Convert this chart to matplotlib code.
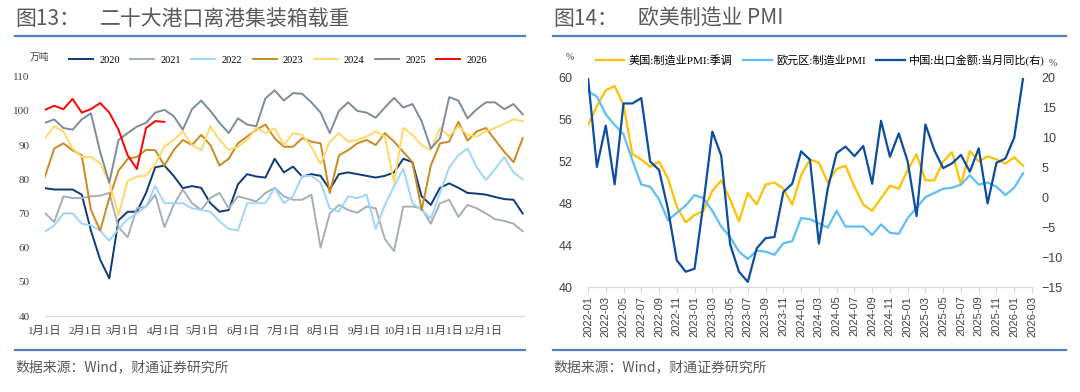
import numpy as np
import matplotlib
matplotlib.use('Agg')
import matplotlib.pyplot as plt
from matplotlib.lines import Line2D

plt.rcParams['font.family'] = ['Liberation Serif', 'Noto Sans CJK SC', 'DejaVu Sans']

# ---- 图13 二十大港口离港集装箱载重 (万吨), 每7天取一个点 ----
days = np.arange(0, 365, 7)
y2020 = [77.4, 77, 77, 77, 75.5, 65, 56.5, 51, 68, 70.5, 70.5, 76, 83.5, 84, 81, 77.4, 78, 77.5, 73, 70.5,
         71, 78.5, 81.5, 80.8, 80.5, 86, 82,
         83.7, 80.8, 81.5, 81, 77, 81.5, 82, 81.5, 81, 80.5, 81, 82, 86, 85, 75, 72.5, 77.5, 78.8, 77.5,
         76, 75.8, 75.5, 74.8, 74.2, 74, 70]
y2021 = [70.1, 67.5, 75, 74.5, 74.5, 75, 75.2, 76, 66, 63, 71.5, 72, 75.5, 66, 72.5, 77, 73, 71, 74.5, 76,
         71.5, 75, 74.3, 73.5, 76, 77.5, 75,
         74, 74, 75.5, 60, 70, 72.5, 71, 70.2, 72, 71.5, 62.5, 59, 72, 72, 71.5, 67, 73, 74, 69,
         72.5, 71.5, 70, 68.3, 67.8, 67, 64.8]
y2022 = [64.7, 66.5, 70, 70, 67, 66.5, 65, 62, 65.5, 68.3, 70.1, 72, 78, 73, 73, 73, 71.5, 71, 70.5, 67.7,
         65.5, 65, 73, 73, 73, 77.5, 73,
         75, 81, 81, 79, 71.5, 70.5, 75, 74.5, 75.5, 65.5, 72.5, 78, 83, 73, 71, 68.5, 76, 83.5, 87,
         89, 83.5, 79.8, 83, 86.5, 82, 80]
y2023 = [80.8, 89, 90.5, 88.5, 87, 71, 65, 74.5, 82.5, 86, 86.5, 88.6, 88.5, 84, 88.5, 91.5, 90, 93, 90, 84,
         86, 90.5, 92.5, 94.5, 96, 92, 89.5,
         89.5, 92, 91, 90.5, 76, 87, 88.5, 90.5, 91.5, 90, 93.5, 91, 88, 85, 71, 84, 90.5, 91, 96.8,
         91.3, 94, 95, 91.5, 88, 85, 92]
y2024 = [92, 95.5, 94, 89, 86.5, 86.5, 84.7, 79, 69.5, 79.5, 80.8, 81, 84.5, 89.5, 91.5, 94, 90, 88.5, 95.5, 91.5,
         88.6, 89.5, 91.5, 95, 93.5, 94.9, 90,
         93.5, 93, 89.5, 84.5, 91, 93.5, 91, 91.5, 92.5, 94, 92.5, 79, 95, 93, 90, 88.5, 95, 92.5, 95.5,
         93, 92.5, 94, 95, 96.3, 97.5, 97]
y2025 = [96.5, 97.5, 95, 94.5, 97.5, 99.3, 88, 79, 91.5, 93.5, 95.4, 96.5, 99.5, 100.3, 98.5, 94.5, 100.5, 103, 100, 96.5,
         93.5, 97.8, 96, 95.5, 103.7, 106, 103,
         105.2, 105, 102.5, 99.5, 93.5, 100, 102.5, 100, 99.5, 98, 101, 103.8, 101, 102, 97, 89, 92, 104, 103,
         97.8, 100.5, 102.5, 102.5, 100.5, 102, 99]
y2026 = [100.3, 101.5, 100.5, 103.5, 99.5, 100.5, 102.3, 99.5, 94.5, 87, 83, 95, 97, 96.8]

port_series = [('2020', y2020, '#0D3A78'), ('2021', y2021, '#A6AEB6'), ('2022', y2022, '#9FD6F8'),
               ('2023', y2023, '#C98A1F'), ('2024', y2024, '#FFD966'), ('2025', y2025, '#7D8C9B'),
               ('2026', y2026, '#FF0000')]
month_start = [0, 31, 59, 90, 120, 151, 181, 212, 243, 273, 304, 334]
month_labels = ['%d月1日' % m for m in range(1, 13)]

# ---- 图14 欧美制造业 PMI ----
us_pmi = [55.5, 57.3, 58.8, 59.2, 57.4, 52.7, 52.2, 51.5, 52.0, 50.4, 47.7, 46.2,
          46.9, 47.3, 49.2, 50.2, 48.4, 46.3, 49.0, 47.9, 49.8, 50.0, 49.4, 47.9,
          50.7, 52.2, 51.9, 50.0, 51.3, 51.6, 49.6, 47.9, 47.3, 48.5, 49.7, 49.4,
          51.2, 52.7, 50.2, 50.2, 52.0, 52.9, 49.8, 53.0, 52.0, 52.5, 52.2, 51.8,
          52.4, 51.6]
eu_pmi = [58.7, 58.2, 56.5, 55.5, 54.6, 52.1, 49.8, 49.6, 48.4, 46.4, 47.1, 47.8,
          48.8, 48.5, 47.3, 45.8, 44.8, 43.4, 42.7, 43.5, 43.4, 43.1, 44.2, 44.4,
          46.6, 46.5, 46.1, 45.7, 47.3, 45.8, 45.8, 45.8, 45.0, 46.0, 45.2, 45.1,
          46.6, 47.6, 48.6, 49.0, 49.4, 49.5, 49.8, 50.7, 49.8, 50.0, 49.6, 48.8,
          49.5, 50.9]
cn_export = [20, 5.1, 12.0, 2.2, 15.7, 15.7, 16.6, 6.0, 4.6, -1.9, -10.5, -12.4,
             -11.9, -1.0, 11.0, 7.0, -7.8, -12.4, -14.1, -8.5, -6.8, -6.6, 0.9, 2.3,
             7.7, 6.3, -7.7, 1.5, 7.4, 8.5, 6.9, 8.6, 2.3, 12.8, 6.8, 10.7,
             6.0, -3.1, 12.2, 7.9, 4.9, 5.7, 7.1, 4.3, 8.2, -1.0, 5.8, 6.5,
             10.0, 20.0]
month_ticks = ['%d-%02d' % (y, m) for y in range(2022, 2027) for m in (1, 3, 5, 7, 9, 11)][:26]

W, H = 1080, 392
fig = plt.figure(figsize=(W / 100, H / 100), dpi=100)

def fx(px):
    return px / W

def fy(py):
    return 1 - py / H

grey = '#595959'
rule = '#4F81BD'
cjk = ['Noto Sans CJK SC', 'DejaVu Sans']

# titles, rules and footers
for x0, x1, head, name in [(15, 525, '图13：', '二十大港口离港集装箱载重'), (553, 1066, '图14：', '欧美制造业 PMI')]:
    fig.text(fx(x0), fy(19), head, fontsize=15, color=grey, va='center', family=cjk)
    fig.text(fx(x0 + 85), fy(19), name, fontsize=15, color=grey, va='center', family=cjk)
    fig.add_artist(Line2D([fx(x0), fx(x1)], [fy(36), fy(36)], color=rule, lw=1.6))
    fig.add_artist(Line2D([fx(x0), fx(x1)], [fy(350), fy(350)], color=rule, lw=1.6))
    fig.text(fx(x0), fy(367), '数据来源：Wind，财通证券研究所', fontsize=10, color=grey, va='center', family=cjk)

# ---- left chart ----
ax1 = fig.add_axes([fx(45), fy(316), fx(524) - fx(45), fy(76.7) - fy(316)])
for name, vals, c in port_series:
    ax1.plot(days[:len(vals)], vals, color=c, lw=1.4, label=name)
ax1.set_xlim(0, 365)
ax1.set_ylim(40, 110)
ax1.set_yticks(range(40, 111, 10))
ax1.set_xticks(month_start)
ax1.set_xticklabels(month_labels)
for s in ['top', 'left', 'right']:
    ax1.spines[s].set_visible(False)
ax1.spines['bottom'].set_color('#D9D9D9')
ax1.tick_params(axis='both', length=0, labelsize=8, colors='#404040')
ax1.tick_params(axis='y', pad=11)
ax1.tick_params(axis='x', pad=7)
ax1.legend(ncol=7, loc='center left', bbox_to_anchor=(fx(64), fy(60)), bbox_transform=fig.transFigure,
           frameon=False, fontsize=7.5, handlelength=2.3, handletextpad=0.6, columnspacing=1.0, borderpad=0)
fig.text(fx(30), fy(57), '万吨', fontsize=7, color='#404040', va='center')

# ---- right chart ----
ax2 = fig.add_axes([fx(588), fy(287.3), fx(1032) - fx(588), fy(77.7) - fy(287.3)])
ax3 = ax2.twinx()
xi = np.arange(len(us_pmi))
l1, = ax2.plot(xi, us_pmi, color='#FFC000', lw=1.6, label='美国:制造业PMI:季调')
l2, = ax2.plot(xi, eu_pmi, color='#5EBEF5', lw=1.6, label='欧元区:制造业PMI')
l3, = ax3.plot(np.arange(len(cn_export)), cn_export, color='#0B4D9E', lw=1.6, label='中国:出口金额:当月同比(右)')
ax2.set_xlim(0, 50)
ax2.set_ylim(40, 60)
ax2.set_yticks(range(40, 61, 4))
ax3.set_ylim(-15, 20)
ax3.set_yticks(range(-15, 21, 5))
ax2.set_xticks(range(0, 51, 2))
ax2.set_xticklabels(month_ticks, rotation=90, family=['Liberation Sans'], fontsize=8)
for a in (ax2, ax3):
    for s in ['top', 'left', 'right']:
        a.spines[s].set_visible(False)
    a.spines['bottom'].set_color('#D9D9D9')
ax2.tick_params(axis='x', length=4, color='#D9D9D9', colors='#404040', pad=2)
ax2.tick_params(axis='y', length=0, pad=11, labelsize=9, colors='#404040')
ax3.tick_params(axis='y', length=0, pad=7, labelsize=9, colors='#404040')
for lab in ax2.get_yticklabels() + ax3.get_yticklabels():
    lab.set_family('Liberation Sans')
fig.legend([l1, l2, l3], [l1.get_label(), l2.get_label(), l3.get_label()], ncol=3, loc='center left',
           bbox_to_anchor=(fx(590), fy(60)), frameon=False, fontsize=8, handlelength=2.6,
           handletextpad=0.4, columnspacing=0.9, borderpad=0)
fig.text(fx(566), fy(58), '%', fontsize=7, color='#404040', va='center')
fig.text(fx(1049), fy(64), '%', fontsize=7, color='#404040', va='center')

fig.savefig('out.png', dpi=100)
